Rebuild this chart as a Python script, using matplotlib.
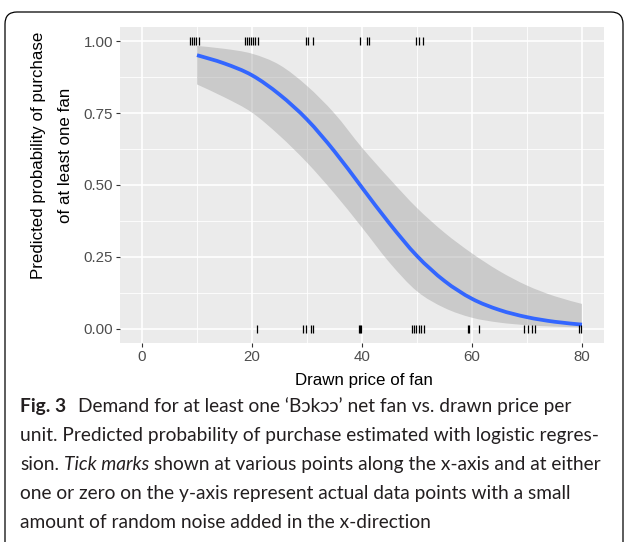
"""
Fig. 3 - predicted probability of buying a net fan vs. drawn price.
"""

import matplotlib.pyplot as plt
from matplotlib.patches import FancyBboxPatch, PathPatch
from matplotlib.path import Path
import numpy as np

# logistic fit
price_grid = [10, 15, 20, 25, 30, 35, 40, 45, 50, 55, 60, 65, 70, 75, 80]
prob_fit = [0.952, 0.923, 0.882, 0.815, 0.728, 0.617, 0.491, 0.366, 0.253,
            0.166, 0.104, 0.065, 0.040, 0.024, 0.014]
prob_upper = [0.984, 0.974, 0.957, 0.918, 0.845, 0.749, 0.630, 0.522, 0.420,
              0.334, 0.262, 0.200, 0.150, 0.113, 0.086]
prob_lower = [0.850, 0.805, 0.752, 0.672, 0.578, 0.470, 0.352, 0.230, 0.130,
              0.072, 0.038, 0.021, 0.012, 0.007, 0.004]

# observed prices (jittered), bought = 1 / did not buy = 0
bought_x = [8.7, 9.1, 9.5, 9.9, 10.3,
            18.7, 19.0, 19.4, 19.8, 20.2, 20.5, 21.0,
            29.8, 30.2, 31.0,
            39.6, 40.9, 41.2,
            49.8, 50.3, 51.0]
not_bought_x = [20.9,
                29.3, 29.8, 30.7, 31.0,
                39.5, 39.6, 39.8,
                49.1, 49.5, 49.9, 50.3, 50.7, 51.2,
                59.3, 59.5, 61.2,
                69.4, 70.2, 70.9, 71.4,
                79.4, 79.8]

x_ticks = [0, 20, 40, 60, 80]
x_minor = [10, 30, 50, 70]
y_ticks = [0.0, 0.25, 0.50, 0.75, 1.00]
y_minor = [0.125, 0.375, 0.625, 0.875]

caption_lines = [
    [("Fig. 3", "bold", "normal"), ("Demand for at least one \u2018B\u0254k\u0254\u0254\u2019 net fan vs. drawn price per", "normal", "normal")],
    [("unit. Predicted probability of purchase estimated with logistic regres-", "normal", "normal")],
    [("sion.", "normal", "normal"), ("Tick marks", "normal", "italic"),
     ("shown at various points along the x-axis and at either", "normal", "normal")],
    [("one or zero on the y-axis represent actual data points with a small", "normal", "normal")],
    [("amount of random noise added in the x-direction", "normal", "normal")],
]

W, H = 625, 542
plot_font = ['Liberation Sans', 'DejaVu Sans']
cap_font = ['Lato', 'DejaVu Sans']


def curve_segments(xs, ys):
    """Bezier (Catmull-Rom) segments through the given points, for smooth drawing."""
    pts = np.column_stack([xs, ys]).astype(float)
    verts, codes = [], []
    for i in range(len(pts) - 1):
        p0 = pts[i - 1] if i > 0 else pts[i]
        p1, p2 = pts[i], pts[i + 1]
        p3 = pts[i + 2] if i + 2 < len(pts) else pts[i + 1]
        verts += [p1 + (p2 - p0) / 6, p2 - (p3 - p1) / 6, p2]
        codes += [Path.CURVE4] * 3
    return verts, codes


fig = plt.figure(figsize=(W / 100, H / 100), dpi=100)
ax = fig.add_axes([120 / W, 199 / H, 484 / W, 316 / H])
ax.set_facecolor('#EBEBEB')
for s in ax.spines.values():
    s.set_visible(False)

ax.set_xlim(-4, 84)
ax.set_ylim(-0.05, 1.05)
ax.set_xticks(x_ticks)
ax.set_xticks(x_minor, minor=True)
ax.set_yticks(y_ticks)
ax.set_yticks(y_minor, minor=True)
ax.set_yticklabels([f"{v:.2f}" for v in y_ticks])
ax.set_axisbelow(True)
ax.grid(which='major', color='white', linewidth=1.2)
ax.grid(which='minor', color='white', linewidth=0.6)
ax.tick_params(which='major', length=3, width=0.8, color='#333333',
               labelcolor='#4D4D4D', labelsize=10.8, pad=2)
ax.tick_params(which='minor', length=0)
for lab in ax.get_xticklabels() + ax.get_yticklabels():
    lab.set_family(plot_font)

# confidence ribbon
up_v, up_c = curve_segments(price_grid, prob_upper)
lo_v, lo_c = curve_segments(price_grid[::-1], prob_lower[::-1])
rib_verts = ([(price_grid[0], prob_upper[0])] + up_v +
             [(price_grid[-1], prob_lower[-1])] + lo_v + [(0, 0)])
rib_codes = ([Path.MOVETO] + up_c + [Path.LINETO] + lo_c + [Path.CLOSEPOLY])
ax.add_patch(PathPatch(Path(rib_verts, rib_codes), facecolor='#999999',
                       alpha=0.4, linewidth=0, zorder=2))

# fitted curve
fit_v, fit_c = curve_segments(price_grid, prob_fit)
ax.add_patch(PathPatch(Path([(price_grid[0], prob_fit[0])] + fit_v,
                            [Path.MOVETO] + fit_c),
                       fill=False, edgecolor='#3366FF', linewidth=2.7,
                       capstyle='butt', zorder=3))

# rug-like tick marks for observations
ax.plot(bought_x, np.ones(len(bought_x)), linestyle='none', marker='|',
        markersize=5.5, markeredgewidth=0.9, color='black', zorder=4)
ax.plot(not_bought_x, np.zeros(len(not_bought_x)), linestyle='none', marker='|',
        markersize=5.5, markeredgewidth=0.9, color='black', zorder=4)

fig.text(52 / W, 1 - 155 / H, "Predicted probability of purchase\nof at least one fan",
         rotation=90, ha='center', va='center', fontsize=12.2, linespacing=2.0,
         family=plot_font, color='black')
fig.text(364 / W, 1 - 381 / H, "Drawn price of fan", ha='center', va='center',
         fontsize=12.2, family=plot_font, color='black')

# caption with mixed styles
renderer = fig.canvas.get_renderer()


def text_width(s, size, weight='normal', style='normal'):
    t = fig.text(0, 0, s, fontsize=size, fontweight=weight, fontstyle=style,
                 family=cap_font)
    w = t.get_window_extent(renderer).width
    t.remove()
    return w


# scale caption font so the widest line spans the same width as the reference
ref_size = 10
widest = text_width("sion. Tick marks shown at various points along the x-axis and at either", ref_size)
cap_size = ref_size * 585 / widest
space_w = text_width("a a", cap_size) - text_width("aa", cap_size)

baselines = [412, 441, 470, 499, 528]
for runs, base in zip(caption_lines, baselines):
    x = 20
    for txt, weight, style in runs:
        t = fig.text(x / W, 1 - base / H, txt, fontsize=cap_size, fontweight=weight,
                     fontstyle=style, family=cap_font, ha='left', va='baseline',
                     color='#231F20')
        bb = t.get_window_extent(renderer)
        gap = 12 if txt == "Fig. 3" else space_w
        x = bb.x1 + gap

border = FancyBboxPatch((0.05, -0.3), 6.18, 5.6,
                        boxstyle='round,pad=0,rounding_size=0.12',
                        transform=fig.dpi_scale_trans, fill=False,
                        linewidth=0.9, edgecolor='black', clip_on=False)
fig.patches.append(border)

fig.savefig('out.png', dpi=100)
plt.close(fig)
